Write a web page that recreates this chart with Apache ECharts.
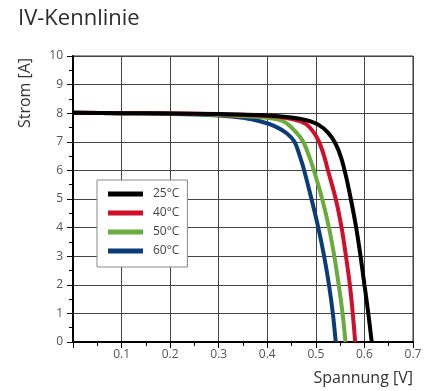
<!DOCTYPE html>
<html>
<head>
<meta charset="utf-8">
<script src="https://cdn.jsdelivr.net/npm/echarts@6/dist/echarts.min.js"></script>
<style>
  html, body { margin: 0; padding: 0; background: #fff; }
  #box { width: 430px; height: 391px; }
</style>
</head>
<body>
<div id="box"></div>
<script>
// Messpunkte [Spannung V, Strom A]
var names = ['25°C', '40°C', '50°C', '60°C'];
var colors = ['#000000', '#d0102a', '#6aab3c', '#0b3c78'];

var c25 = [[0, 8.02], [0.1, 8.0], [0.2, 7.99], [0.3, 7.97], [0.4, 7.92], [0.45, 7.85], [0.48, 7.76],
  [0.505, 7.6], [0.525, 7.32], [0.54, 6.95], [0.552, 6.45], [0.562, 5.8], [0.572, 5.0],
  [0.583, 4.0], [0.592, 3.0], [0.6, 2.0], [0.608, 1.0], [0.615, 0]];
var c40 = [[0, 8.02], [0.1, 8.0], [0.2, 7.99], [0.3, 7.96], [0.4, 7.9], [0.455, 7.78], [0.48, 7.62],
  [0.496, 7.32], [0.507, 6.98], [0.517, 6.5], [0.525, 6.0], [0.541, 5.0], [0.553, 4.0],
  [0.562, 3.0], [0.57, 2.0], [0.576, 1.0], [0.581, 0]];
var c50 = [[0, 8.02], [0.1, 8.0], [0.2, 7.99], [0.3, 7.94], [0.4, 7.84], [0.435, 7.7], [0.46, 7.32],
  [0.474, 7.0], [0.486, 6.5], [0.496, 6.0], [0.513, 5.0], [0.527, 4.0], [0.538, 3.0],
  [0.547, 2.0], [0.555, 1.0], [0.561, 0]];
var c60 = [[0, 8.02], [0.1, 8.0], [0.2, 7.98], [0.3, 7.92], [0.35, 7.84], [0.385, 7.72], [0.415, 7.55],
  [0.44, 7.3], [0.456, 7.0], [0.467, 6.5], [0.476, 6.0], [0.491, 5.0], [0.505, 4.0],
  [0.517, 3.0], [0.527, 2.0], [0.535, 1.0], [0.541, 0]];
var curves = [c25, c40, c50, c60];

var myChart = echarts.init(document.getElementById('box'));

var series = names.map(function (n, i) {
  return {
    name: n,
    type: 'line',
    data: curves[i],
    smooth: 0.3,
    showSymbol: false,
    lineStyle: { width: 4, color: colors[i] },
    itemStyle: { color: colors[i] },
    z: 10 - i
  };
});

var option = {
  animation: false,
  textStyle: { fontFamily: 'Open Sans' },
  title: {
    text: 'IV-Kennlinie',
    left: 13, top: 3,
    textStyle: { fontSize: 22, fontWeight: 'normal', color: '#2b2b2b', fontFamily: 'Open Sans' }
  },
  grid: {
    left: 73, right: 17, top: 56, bottom: 49,
    show: true, borderColor: '#333', borderWidth: 1
  },
  legend: {
    data: names,
    orient: 'vertical',
    left: 97, top: 180,
    width: 94,
    padding: [7, 8, 9, 11],
    itemGap: 5,
    itemWidth: 35, itemHeight: 5,
    icon: 'rect',
    backgroundColor: '#fff',
    borderColor: '#888', borderWidth: 1,
    textStyle: { fontSize: 12, color: '#444', lineHeight: 14, padding: [0, 0, 0, 5] }
  },
  xAxis: {
    type: 'value', min: 0, max: 0.7, interval: 0.1,
    axisLine: { lineStyle: { color: '#000', width: 2 } },
    axisTick: { show: true, length: 6, lineStyle: { color: '#000', width: 1 } },
    minorTick: { show: true, splitNumber: 2, length: 4, lineStyle: { color: '#000' } },
    axisLabel: {
      fontSize: 12, color: '#555', margin: 7,
      formatter: function (v) { return v === 0 ? '' : v.toFixed(1); }
    },
    splitLine: { show: true, lineStyle: { color: '#444', width: 1 } }
  },
  yAxis: {
    type: 'value', min: 0, max: 10, interval: 1,
    axisLine: { show: true, lineStyle: { color: '#000', width: 2 } },
    axisTick: { show: true, length: 6, lineStyle: { color: '#000', width: 1 } },
    minorTick: { show: true, splitNumber: 2, length: 4, lineStyle: { color: '#000' } },
    axisLabel: { fontSize: 12, color: '#555', margin: 10 },
    splitLine: { show: true, lineStyle: { color: '#444', width: 1 } }
  },
  graphic: [
    {
      type: 'text', x: 25, y: 93, rotation: Math.PI / 2,
      style: { text: 'Strom [A]', fontSize: 16, fill: '#333', fontFamily: 'Open Sans',
        textAlign: 'center', textVerticalAlign: 'middle' }
    },
    {
      type: 'text', x: 413, y: 378,
      style: { text: 'Spannung [V]', fontSize: 16, fill: '#333', fontFamily: 'Open Sans',
        textAlign: 'right', textVerticalAlign: 'middle' }
    }
  ],
  series: series
};

myChart.setOption(option);
</script>
</body>
</html>
